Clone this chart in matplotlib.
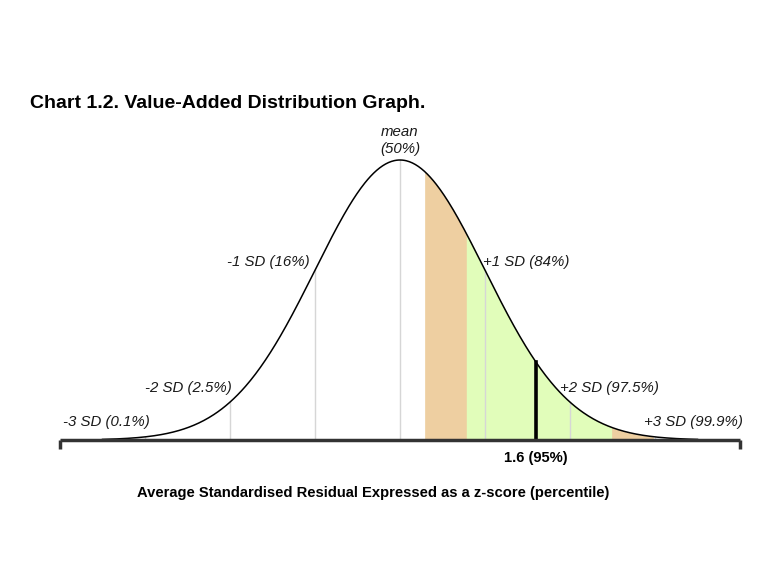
import matplotlib.pyplot as plt
import numpy as np

plt.rcParams['font.family'] = ['Liberation Sans', 'DejaVu Sans']

# Distribution and marked values
MEAN = 0.0
SD = 1.0
sd_marks = [-3, -2, -1, 0, 1, 2, 3]
sd_labels = ["-3 SD (0.1%)", "-2 SD (2.5%)", "-1 SD (16%)", "mean\n(50%)",
             "+1 SD (84%)", "+2 SD (97.5%)", "+3 SD (99.9%)"]
outer_band = [0.29, 2.98]
inner_band = [0.78, 2.49]
score = 1.6
score_label = "1.6 (95%)"

TAN = "#EECFA1"
GREEN = "#E1FDBA"
GRID = "#D6D6D6"


def pdf(z):
    return np.exp(-0.5 * ((z - MEAN) / SD) ** 2) / (SD * np.sqrt(2 * np.pi))


fig = plt.figure(figsize=(7.8, 5.85), dpi=100)
peak = pdf(MEAN)
ymax = 0.45
base_px, peak_px = 440, 160
height_px = (base_px - peak_px) * ymax / peak
ax = fig.add_axes([60 / 780, (585 - base_px) / 585, 680 / 780, height_px / 585])
ax.set_xlim(-4, 4)
ax.set_ylim(0, ymax)
ax.axis("off")

z = np.linspace(-3.5, 3.5, 600)

# shaded bands
zz = np.linspace(outer_band[0], outer_band[1], 300)
ax.fill_between(zz, 0, pdf(zz), color=TAN, linewidth=0)
zz = np.linspace(inner_band[0], inner_band[1], 300)
ax.fill_between(zz, 0, pdf(zz), color=GREEN, linewidth=0)

# SD gridlines
for m in sd_marks:
    ax.plot([m, m], [0, pdf(m)], color=GRID, linewidth=1, zorder=2)

ax.plot(z, pdf(z), color="black", linewidth=1.1, zorder=4)

# score line
ax.plot([score, score], [0, pdf(score)], color="black", linewidth=2.6, zorder=5)

# axis line with end ticks
ax.plot([-4, 4], [0, 0], color="#333333", linewidth=2.5, zorder=6,
        solid_capstyle="butt", clip_on=False)
for e in (-4, 4):
    ax.plot([e, e], [0, -0.013], color="#333333", linewidth=2.5, clip_on=False,
            solid_capstyle="butt")

# SD labels
offsets = {
    -3: (5, 15, "right"), -2: (2, 14, "right"), -1: (-5, 8, "right"),
    1: (-2, 8, "left"), 2: (-10, 14, "left"), 3: (-11, 15, "left"),
}
for m, lab in zip(sd_marks, sd_labels):
    if m == 0:
        ax.annotate(lab, xy=(m, pdf(m)), xytext=(0, 4), textcoords="offset pixels",
                    ha="center", va="bottom", fontsize=10.8, style="italic",
                    color="#1a1a1a", linespacing=1.3)
    else:
        dx, dy, ha = offsets[m]
        ax.annotate(lab, xy=(m, pdf(m)), xytext=(dx, dy), textcoords="offset pixels",
                    ha=ha, va="center", fontsize=10.8, style="italic", color="#1a1a1a")

ax.annotate(score_label, xy=(score, 0), xytext=(0, -18), textcoords="offset pixels",
            ha="center", va="center", fontsize=10.6, fontweight="bold")

fig.text(30 / 780, 1 - 103 / 585, "Chart 1.2. Value-Added Distribution Graph.",
         fontsize=14, fontweight="bold", ha="left", va="center")
fig.text(373 / 780, 1 - 493 / 585,
         "Average Standardised Residual Expressed as a z-score (percentile)",
         fontsize=10.6, fontweight="bold", ha="center", va="center")

fig.savefig("out.png", dpi=100)
